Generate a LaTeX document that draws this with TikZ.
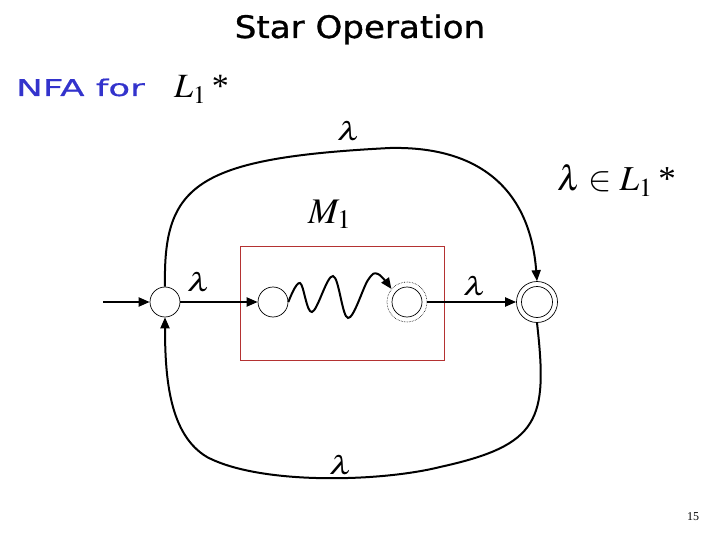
\documentclass[tikz,border=0pt]{standalone}
\usepackage{mathptmx}
\usepackage[no-math]{fontspec}
\setmainfont{Liberation Serif}
\newfontfamily\comic[FakeStretch=1.1,FakeBold=1]{DejaVu Sans}
\newfontfamily\comicwide[FakeStretch=1.55,FakeBold=0.6]{DejaVu Sans}
\usetikzlibrary{arrows.meta}
\definecolor{nfablue}{RGB}{51,51,204}
\definecolor{boxred}{RGB}{180,50,50}
\begin{document}
\begin{tikzpicture}[x=1pt,y=-1pt,
  state/.style={circle,draw,minimum size=30pt,inner sep=0pt,line width=0.7pt},
  edge/.style={line width=2pt,-{Triangle[length=11pt,width=9pt]}},
  lam/.style={font=\fontsize{26}{26}\selectfont,xscale=1.35}]
\useasboundingbox (0,0) rectangle (720,540);
% texts
\node[anchor=base] (title) at (360,38) {\comic\fontsize{31}{31}\selectfont Star Operation};
\node[anchor=base west,text=nfablue,inner sep=0pt] (nfa) at (16,96) {\comicwide\fontsize{23}{23}\selectfont NFA for};
\node[anchor=base west,inner sep=0pt] (lstar) at (174,98) {\fontsize{34}{34}\selectfont $L_1$\,*};
\node[anchor=base west,inner sep=0pt] (m1) at (308,223) {\fontsize{36}{36}\selectfont $M_1$};
\node[anchor=base west,inner sep=0pt] (lin) at (557,191) {\fontsize{35}{35}\selectfont $\lambda\in L_1$\,*};
\node (pg) at (693,517) {\fontsize{12}{12}\selectfont 15};
% box
\node[draw=boxred,line width=0.8pt,minimum width=204pt,minimum height=114pt,inner sep=0pt] (box) at (342,303) {};
% states
\node[state] (s) at (165,302) {};
\node[state] (q1) at (273,302) {};
\node[circle,draw,densely dotted,line width=0.6pt,minimum size=40pt,inner sep=0pt] (f1) at (407,302) {};
\node[state] (f1in) at (407,302) {};
\node[circle,draw,line width=0.7pt,minimum size=41pt,inner sep=0pt] (fin) at (537,302) {};
\node[circle,draw,line width=0.7pt,minimum size=31pt,inner sep=0pt] (finin) at (537,302) {};
% connectors
\coordinate (in) at (103,302);
\draw[edge] (in) -- (s);
\draw[edge] (s) -- (q1);
\node[lam] (l1) at (199,282) {$\lambda$};
\draw[edge] (f1) -- (fin);
\node[lam] (l2) at (475,286) {$\lambda$};
\draw[edge] plot[smooth,tension=0.6] coordinates {(q1.east) (300,283) (312,312) (333,276) (348,318) (368,280) (378,274) (f1.140)};
\coordinate (top) at (390,148);
\draw[edge] (s.north) .. controls (163,185) and (195,158) .. (top) .. controls (480,146) and (530,190) .. (fin.north);
\node[lam] (l3) at (349,131) {$\lambda$};
\coordinate (b1) at (440,467);
\coordinate (b2) at (207,457);
\draw[edge] (fin.south) .. controls (548,420) and (540,445) .. (b1) .. controls (380,482) and (260,485) .. (b2) .. controls (170,435) and (165,380) .. (s.south);
\node[lam] (l4) at (341,465) {$\lambda$};
\end{tikzpicture}
\end{document}
